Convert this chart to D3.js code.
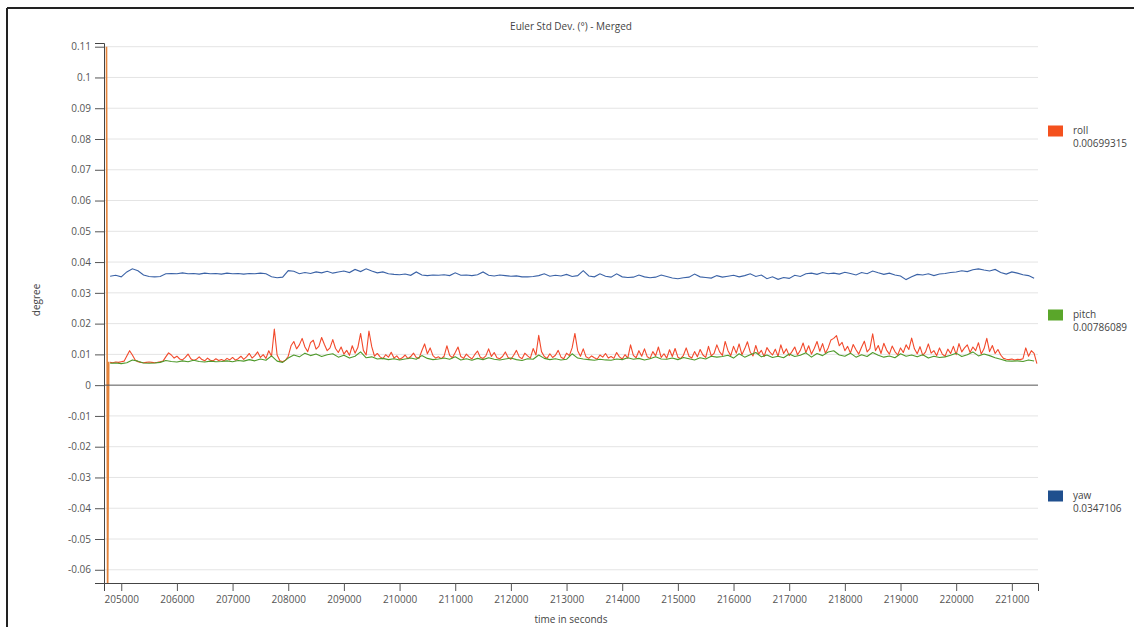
<!DOCTYPE html>
<html>
<head>
<meta charset="utf-8">
<script src="https://cdn.jsdelivr.net/npm/d3@7/dist/d3.min.js"></script>
<style>
  html, body { margin: 0; padding: 0; background: #fff; }
  svg { display: block; }
  text { font-family: "Open Sans", "DejaVu Sans", sans-serif; }
</style>
</head>
<body>
<svg id="chart" width="1134" height="627"></svg>
<script>
// Euler angle standard deviations (degrees), merged solution
const chartTitle = "Euler Std Dev. (°) - Merged";
const xLabel = "time in seconds";
const yLabel = "degree";

const xTicks = [205000, 206000, 207000, 208000, 209000, 210000, 211000, 212000,
  213000, 214000, 215000, 216000, 217000, 218000, 219000, 220000, 221000];
const yTicks = [0.11, 0.1, 0.09, 0.08, 0.07, 0.06, 0.05, 0.04, 0.03, 0.02, 0.01, 0,
  -0.01, -0.02, -0.03, -0.04, -0.05, -0.06];

const seriesNames = ["roll", "pitch", "yaw"];
const legendValues = ["0.00699315", "0.00786089", "0.0347106"];

// roll: sampled every 50 s starting at 204800
const rollStartTime = 204800, rollStep = 50;
const rollValues = [
  0.0074,0.0073,0.0075,0.0074,0.0076,0.0078,0.0095,0.0112,0.0098,0.0082,0.0076,0.0074,0.0073,0.0074,0.0075,0.0074,0.0073,0.0074,0.0076,0.0078,
  0.0092,0.0105,0.0098,0.0088,0.0094,0.0085,0.0082,0.0090,0.0101,0.0086,0.0080,0.0084,0.0092,0.0083,0.0079,0.0088,0.0081,0.0079,0.0086,0.0080,
  0.0083,0.0079,0.0087,0.0082,0.0090,0.0081,0.0086,0.0094,0.0084,0.0092,0.0103,0.0088,0.0096,0.0108,0.0090,0.0099,0.0087,0.0112,0.0094,0.0182,
  0.0098,0.0079,0.0076,0.0081,0.0094,0.0128,0.0142,0.0118,0.0131,0.0152,0.0124,0.0109,0.0138,0.0146,0.0117,0.0126,0.0155,0.0132,0.0112,0.0121,
  0.0148,0.0119,0.0106,0.0124,0.0101,0.0113,0.0097,0.0128,0.0104,0.0122,0.0168,0.0113,0.0098,0.0176,0.0125,0.0094,0.0103,0.0092,0.0086,0.0099,
  0.0091,0.0107,0.0088,0.0095,0.0084,0.0089,0.0098,0.0086,0.0093,0.0104,0.0090,0.0087,0.0112,0.0134,0.0102,0.0121,0.0096,0.0088,0.0092,0.0086,
  0.0094,0.0128,0.0097,0.0089,0.0106,0.0124,0.0093,0.0087,0.0101,0.0092,0.0085,0.0099,0.0111,0.0091,0.0087,0.0095,0.0118,0.0093,0.0106,0.0089,
  0.0086,0.0093,0.0108,0.0090,0.0084,0.0097,0.0113,0.0092,0.0086,0.0104,0.0095,0.0088,0.0119,0.0098,0.0162,0.0109,0.0093,0.0087,0.0102,0.0090,
  0.0097,0.0113,0.0091,0.0086,0.0104,0.0096,0.0121,0.0168,0.0112,0.0094,0.0118,0.0092,0.0087,0.0095,0.0089,0.0084,0.0098,0.0091,0.0103,0.0088,
  0.0093,0.0087,0.0106,0.0092,0.0085,0.0099,0.0088,0.0131,0.0097,0.0089,0.0112,0.0094,0.0118,0.0092,0.0087,0.0109,0.0095,0.0124,0.0090,0.0102,
  0.0088,0.0115,0.0093,0.0119,0.0091,0.0086,0.0097,0.0121,0.0094,0.0088,0.0109,0.0092,0.0116,0.0098,0.0090,0.0126,0.0095,0.0103,0.0131,0.0108,
  0.0097,0.0142,0.0112,0.0096,0.0126,0.0104,0.0134,0.0099,0.0118,0.0141,0.0107,0.0095,0.0129,0.0101,0.0113,0.0093,0.0122,0.0108,0.0098,0.0117,
  0.0094,0.0131,0.0103,0.0118,0.0096,0.0109,0.0124,0.0099,0.0113,0.0137,0.0106,0.0128,0.0101,0.0119,0.0142,0.0110,0.0135,0.0104,0.0121,0.0147,
  0.0152,0.0161,0.0128,0.0139,0.0112,0.0126,0.0104,0.0132,0.0115,0.0101,0.0123,0.0143,0.0108,0.0119,0.0167,0.0112,0.0129,0.0103,0.0136,0.0114,
  0.0101,0.0127,0.0109,0.0098,0.0121,0.0106,0.0131,0.0116,0.0153,0.0118,0.0102,0.0125,0.0097,0.0108,0.0134,0.0104,0.0112,0.0096,0.0121,0.0101,
  0.0094,0.0117,0.0103,0.0126,0.0099,0.0135,0.0108,0.0121,0.0131,0.0106,0.0124,0.0112,0.0138,0.0101,0.0118,0.0152,0.0109,0.0129,0.0103,0.0116,
  0.0098,0.0087,0.0084,0.0083,0.0085,0.0082,0.0084,0.0083,0.0086,0.0121,0.0094,0.0112,0.0103,0.00699315
];

// initial roll transient at the start of the merged run
const rollSpikeTimes = [204735, 204755, 204775];
const rollSpikeValues = [0.11, -0.07, 0.0076];

// pitch and yaw: sampled every 100 s starting at 204800
const attStartTime = 204800, attStep = 100;
const pitchValues = [
  0.0071,0.0072,0.0070,0.0073,0.0082,0.0078,0.0072,0.0071,0.0072,0.0074,
  0.0080,0.0077,0.0075,0.0079,0.0076,0.0081,0.0077,0.0075,0.0078,0.0076,
  0.0077,0.0079,0.0076,0.0080,0.0078,0.0083,0.0079,0.0085,0.0081,0.0095,
  0.0078,0.0074,0.0088,0.0098,0.0092,0.0104,0.0096,0.0101,0.0093,0.0099,
  0.0102,0.0091,0.0097,0.0088,0.0094,0.0108,0.0089,0.0092,0.0085,0.0087,
  0.0083,0.0086,0.0082,0.0085,0.0088,0.0084,0.0096,0.0087,0.0083,0.0085,
  0.0088,0.0084,0.0092,0.0082,0.0086,0.0081,0.0087,0.0083,0.0089,0.0084,
  0.0082,0.0085,0.0088,0.0083,0.0080,0.0086,0.0084,0.0098,0.0087,0.0083,
  0.0086,0.0082,0.0084,0.0102,0.0088,0.0085,0.0083,0.0081,0.0084,0.0082,
  0.0081,0.0085,0.0083,0.0089,0.0084,0.0087,0.0082,0.0086,0.0092,0.0085,
  0.0084,0.0088,0.0083,0.0090,0.0086,0.0082,0.0089,0.0085,0.0094,0.0091,
  0.0093,0.0097,0.0088,0.0102,0.0091,0.0099,0.0106,0.0092,0.0098,0.0090,
  0.0094,0.0089,0.0101,0.0093,0.0097,0.0105,0.0091,0.0103,0.0096,0.0108,
  0.0112,0.0098,0.0094,0.0104,0.0091,0.0099,0.0093,0.0106,0.0097,0.0091,
  0.0095,0.0089,0.0102,0.0094,0.0098,0.0092,0.0099,0.0088,0.0094,0.0090,
  0.0092,0.0097,0.0104,0.0093,0.0099,0.0108,0.0095,0.0101,0.0096,0.0089,
  0.0084,0.0079,0.0078,0.0079,0.0077,0.0082,0.00786089
];
const yawValues = [
  0.0354,0.0357,0.0352,0.0368,0.0378,0.0372,0.0358,0.0353,0.0352,0.0353,
  0.0362,0.0363,0.0362,0.0365,0.0362,0.0363,0.0361,0.0364,0.0362,0.0363,
  0.0361,0.0364,0.0362,0.0363,0.0361,0.0363,0.0362,0.0364,0.0362,0.0352,
  0.0349,0.0351,0.0372,0.0370,0.0362,0.0366,0.0363,0.0368,0.0365,0.0370,
  0.0364,0.0368,0.0371,0.0366,0.0376,0.0369,0.0378,0.0371,0.0365,0.0368,
  0.0362,0.0360,0.0359,0.0361,0.0357,0.0368,0.0358,0.0356,0.0358,0.0357,
  0.0359,0.0356,0.0365,0.0357,0.0358,0.0356,0.0359,0.0368,0.0357,0.0355,
  0.0358,0.0356,0.0354,0.0355,0.0352,0.0352,0.0353,0.0356,0.0362,0.0354,
  0.0357,0.0355,0.0360,0.0353,0.0356,0.0372,0.0355,0.0352,0.0362,0.0354,
  0.0351,0.0362,0.0352,0.0350,0.0351,0.0358,0.0352,0.0349,0.0351,0.0358,
  0.0353,0.0348,0.0346,0.0349,0.0351,0.0361,0.0352,0.0350,0.0348,0.0356,
  0.0351,0.0354,0.0357,0.0352,0.0356,0.0362,0.0353,0.0358,0.0346,0.0352,
  0.0344,0.0350,0.0347,0.0357,0.0353,0.0362,0.0364,0.0360,0.0366,0.0362,
  0.0364,0.0361,0.0367,0.0363,0.0358,0.0366,0.0362,0.0371,0.0365,0.0360,
  0.0364,0.0358,0.0355,0.0343,0.0352,0.0360,0.0358,0.0362,0.0356,0.0361,
  0.0363,0.0366,0.0368,0.0372,0.0369,0.0375,0.0378,0.0374,0.0371,0.0376,
  0.0366,0.0361,0.0368,0.0364,0.0359,0.0356,0.0347106
];

const lineColors = { roll: "#f2492b", pitch: "#4f9a2c", yaw: "#3a62a6", spike: "#e4843c" };
const swatchColors = ["#f4511e", "#5aa62a", "#1f4f8e"];

const svg = d3.select("#chart");
const W = 1134, H = 627;
const plot = { left: 104, right: 1038, top: 43, bottom: 583 };

const x = d3.scaleLinear().domain([204690, 221470]).range([plot.left, plot.right]);
const y = d3.scaleLinear().domain([-0.0643, 0.1112]).range([plot.bottom, plot.top]);

// frame edges
svg.append("line").attr("x1", 7).attr("x2", 7).attr("y1", 8).attr("y2", H)
  .attr("stroke", "#222").attr("stroke-width", 2);
svg.append("line").attr("x1", 7).attr("x2", W).attr("y1", 8).attr("y2", 8)
  .attr("stroke", "#222").attr("stroke-width", 2);

// horizontal grid
svg.append("g").selectAll("line").data(yTicks.filter(d => d !== 0)).join("line")
  .attr("x1", plot.left).attr("x2", plot.right)
  .attr("y1", d => y(d)).attr("y2", d => y(d))
  .attr("stroke", "#e4e4e4").attr("stroke-width", 1);

// clip area for the series
svg.append("defs").append("clipPath").attr("id", "plotClip")
  .append("rect").attr("x", plot.left).attr("y", plot.top)
  .attr("width", plot.right - plot.left).attr("height", plot.bottom - plot.top);

const seriesG = svg.append("g").attr("clip-path", "url(#plotClip)");
const line = d3.line().x(d => x(d[0])).y(d => y(d[1]));

const yawData = yawValues.map((v, i) => [attStartTime + i * attStep, v]);
const pitchData = pitchValues.map((v, i) => [attStartTime + i * attStep, v]);
const rollData = rollValues.map((v, i) => [rollStartTime + i * rollStep, v]);
const spikeData = rollSpikeTimes.map((t, i) => [t, rollSpikeValues[i]]);

seriesG.append("path").datum(yawData).attr("d", line)
  .attr("fill", "none").attr("stroke", lineColors.yaw).attr("stroke-width", 1.1);
seriesG.append("path").datum(rollData).attr("d", line)
  .attr("fill", "none").attr("stroke", lineColors.roll).attr("stroke-width", 1.1)
  .attr("stroke-linejoin", "round");
seriesG.append("path").datum(pitchData).attr("d", line)
  .attr("fill", "none").attr("stroke", lineColors.pitch).attr("stroke-width", 1.1)
  .attr("stroke-linejoin", "round");
seriesG.append("path").datum(spikeData).attr("d", line)
  .attr("fill", "none").attr("stroke", lineColors.spike).attr("stroke-width", 1.6);

// zero line
svg.append("line").attr("x1", plot.left).attr("x2", plot.right)
  .attr("y1", y(0)).attr("y2", y(0))
  .attr("stroke", "#555").attr("stroke-width", 1);

// axes
const yAxis = svg.append("g").attr("transform", `translate(${plot.left},0)`)
  .call(d3.axisLeft(y).tickValues(yTicks).tickSize(9).tickPadding(4).tickFormat(d => String(d)));
const xAxis = svg.append("g").attr("transform", `translate(0,${plot.bottom})`)
  .call(d3.axisBottom(x).tickValues(xTicks).tickSize(8).tickPadding(5).tickFormat(d => String(d)));
[yAxis, xAxis].forEach(a => {
  a.select(".domain").attr("stroke", "#444");
  a.selectAll(".tick line").attr("stroke", "#555");
  a.selectAll(".tick text").attr("fill", "#555").style("font-size", "10px")
    .style("font-family", "'Open Sans', 'DejaVu Sans', sans-serif");
});

// title and axis labels
svg.append("text").attr("x", 571).attr("y", 30).attr("text-anchor", "middle")
  .attr("fill", "#444").style("font-size", "10px").text(chartTitle);
svg.append("text").attr("x", 571).attr("y", 623).attr("text-anchor", "middle")
  .attr("fill", "#444").style("font-size", "10px").text(xLabel);
svg.append("text").attr("transform", "translate(40,300) rotate(-90)").attr("text-anchor", "middle")
  .attr("fill", "#444").style("font-size", "10px").text(yLabel);

// legend
const legendY = [131, 315, 496];
const legend = svg.append("g").selectAll("g").data(seriesNames).join("g")
  .attr("transform", (d, i) => `translate(1048,${legendY[i]})`);
legend.append("rect").attr("x", 0).attr("y", -5.5).attr("width", 15).attr("height", 11)
  .attr("fill", (d, i) => swatchColors[i]);
legend.append("text").attr("x", 25).attr("y", 3).attr("fill", "#444")
  .style("font-size", "10px").text(d => d);
legend.append("text").attr("x", 25).attr("y", 16).attr("fill", "#444")
  .style("font-size", "10px").text((d, i) => legendValues[i]);
</script>
</body>
</html>
